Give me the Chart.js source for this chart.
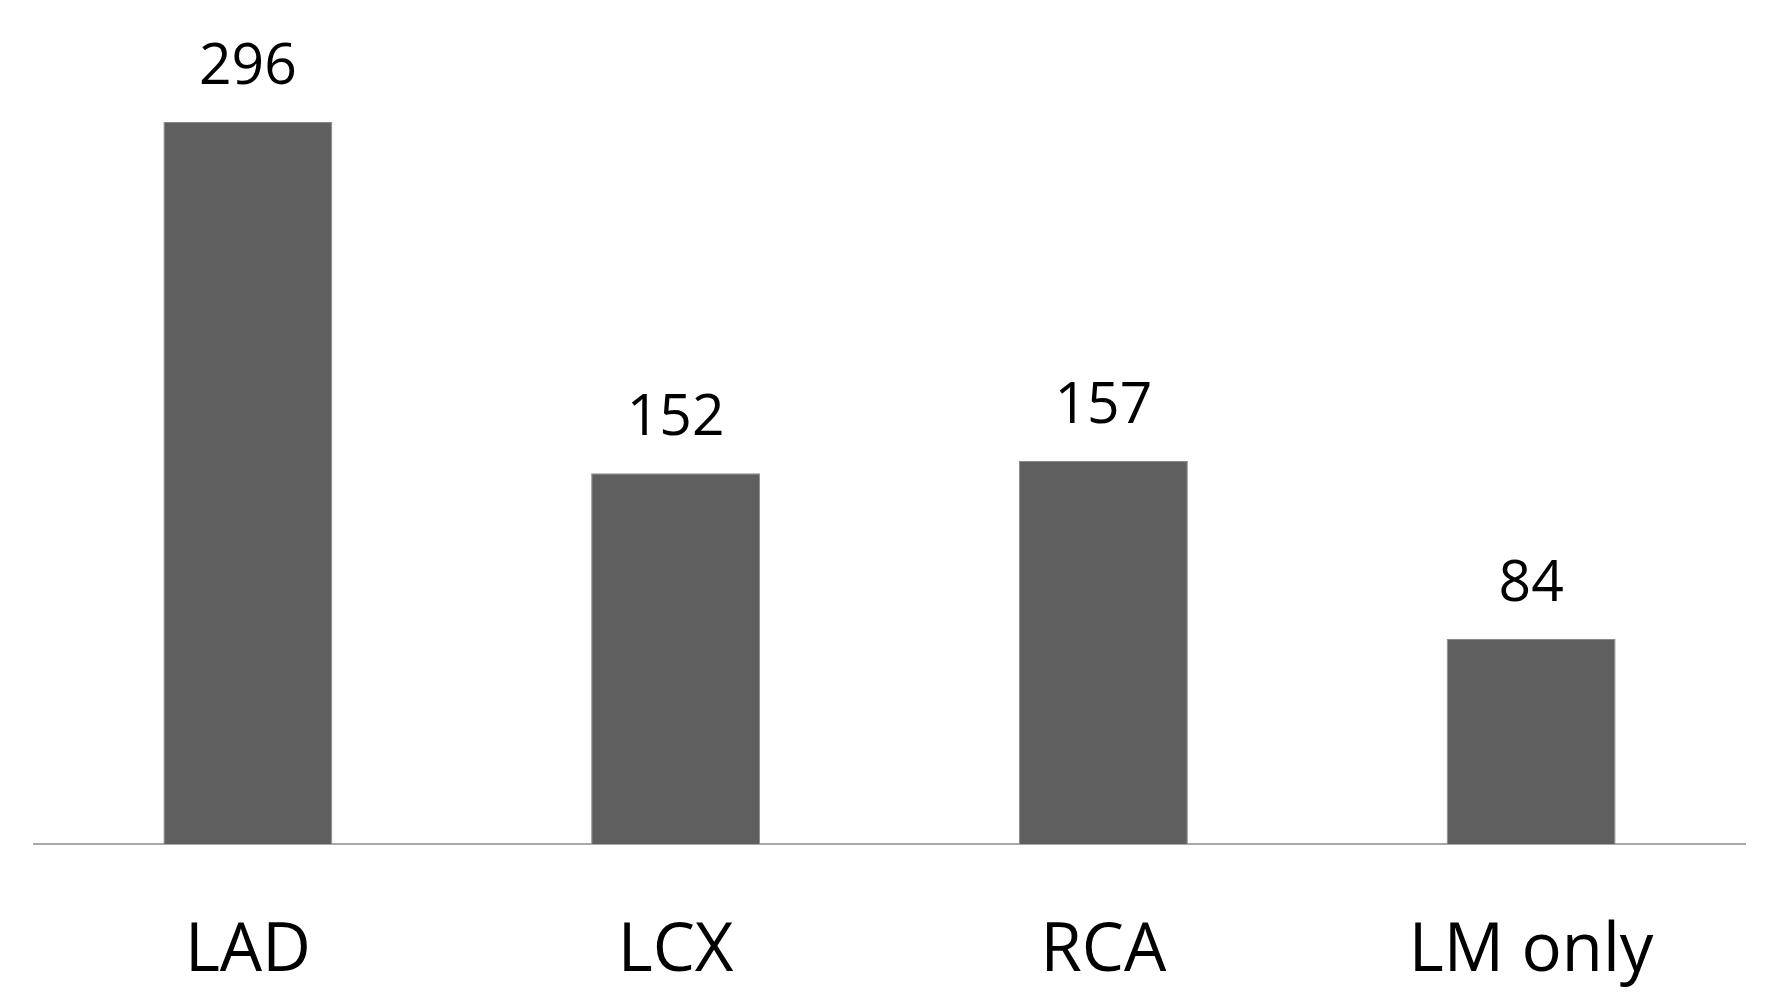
<!DOCTYPE html>
<html>
<head>
<meta charset="utf-8">
<script src="https://cdn.jsdelivr.net/npm/chart.js@4"></script>
<style>
html,body{margin:0;padding:0;background:#fff;}
#wrap{width:1782px;height:1005px;position:relative;}
</style>
</head>
<body>
<div id="wrap"><canvas id="c" width="1782" height="1005"></canvas></div>
<script>
const categories = ["LAD", "LCX", "RCA", "LM only"];
const counts = [296, 152, 157, 84];

const valueLabels = {
  id: 'valueLabels',
  afterDatasetsDraw(chart) {
    const ctx = chart.ctx;
    const meta = chart.getDatasetMeta(0);
    ctx.save();
    ctx.fillStyle = '#000';
    ctx.font = '57px "Open Sans"';
    ctx.textAlign = 'center';
    ctx.textBaseline = 'alphabetic';
    meta.data.forEach((bar, i) => {
      ctx.fillText(String(counts[i]), bar.x, bar.y - 38);
    });
    ctx.restore();
  }
};

new Chart(document.getElementById('c'), {
  type: 'bar',
  data: {
    labels: categories,
    datasets: [{
      data: counts,
      backgroundColor: '#5f5f5f',
      borderColor: '#8a8a8a',
      borderWidth: 1,
      barPercentage: 0.395,
      categoryPercentage: 1.0
    }]
  },
  options: {
    responsive: false,
    animation: false,
    layout: { padding: { left: 34, right: 37, top: 0, bottom: 0 } },
    plugins: { legend: { display: false }, tooltip: { enabled: false } },
    scales: {
      x: {
        grid: { display: false, drawTicks: false },
        border: { display: true, color: '#a8a8a8', width: 2 },
        ticks: { color: '#000', font: { family: '"Open Sans"', size: 67 }, padding: 68 },
        afterFit: s => { s.height = 161; }
      },
      y: {
        display: false,
        min: 0,
        max: 346
      }
    }
  },
  plugins: [valueLabels]
});
</script>
</body>
</html>
